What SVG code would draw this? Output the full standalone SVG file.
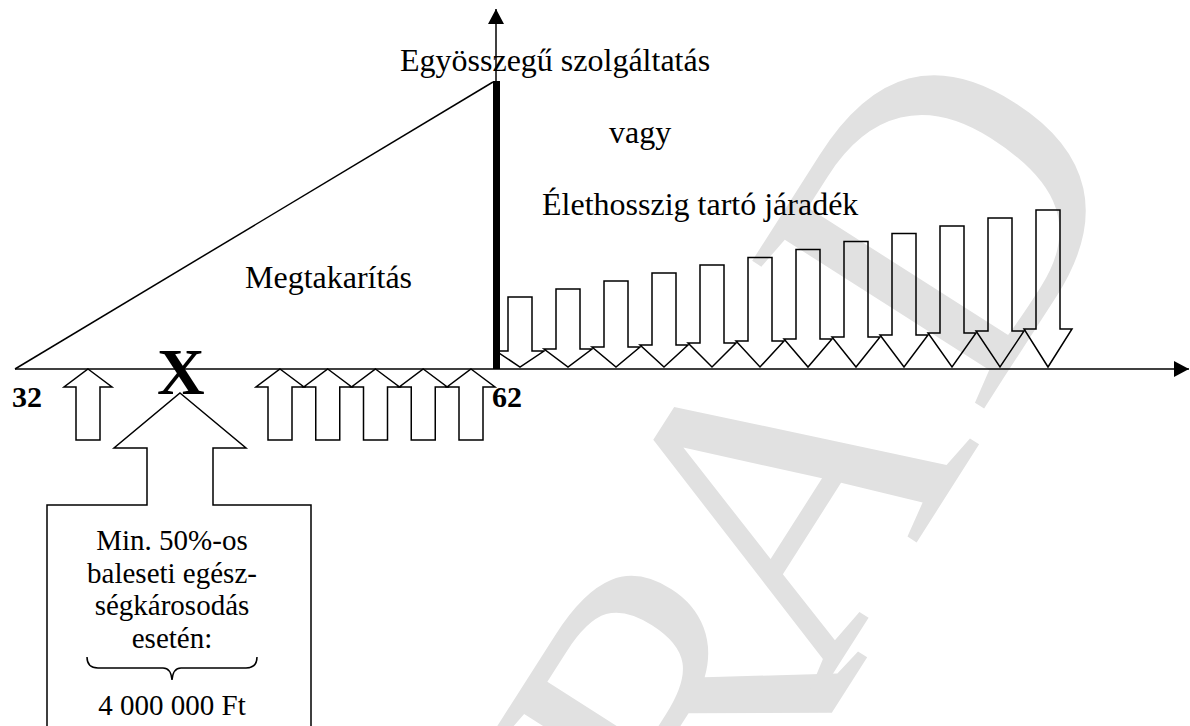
<svg xmlns="http://www.w3.org/2000/svg" width="1190" height="726" viewBox="0 0 1190 726">
  <style>
    .t { font-family: "Liberation Serif", "Times New Roman", serif; font-size: 32px; fill: #000; }
    .tb { font-family: "Liberation Serif", "Times New Roman", serif; font-size: 29px; fill: #000; text-anchor: middle; }
    .num { font-family: "Liberation Serif", "Times New Roman", serif; font-size: 30px; font-weight: bold; fill: #000; }
    .big { font-family: "Liberation Serif", "Times New Roman", serif; font-size: 66px; font-weight: bold; fill: #000; }
    .arrow { fill: none; stroke: #000; stroke-width: 1.5; stroke-linejoin: miter; }
    .line { fill: none; stroke: #000; stroke-width: 1.5; }
    .wm { font-family: "Liberation Serif", "Times New Roman", serif; font-size: 420px; fill: #e1e1e1; }
  </style>
  <defs>
    <marker id="head" markerUnits="userSpaceOnUse" markerWidth="16" markerHeight="16" refX="15" refY="8" orient="auto">
      <path d="M0,0 L15,8 L0,16 Z" fill="#000"/>
    </marker>
  </defs>
  <rect width="1190" height="726" fill="#fff"/>

  <g id="watermark">
    <text class="wm" transform="translate(717,893) rotate(-57.5)"><tspan x="0" y="0">R</tspan><tspan x="219" y="-20">A</tspan><tspan x="540" y="-35">D</tspan></text>
  </g>

  <g id="connectors">
    <line class="line" x1="15" y1="369" x2="1189" y2="369" stroke-width="2" marker-end="url(#head)"/>
    <line class="line" x1="496" y1="82" x2="496" y2="9" marker-end="url(#head)"/>
    <line class="line" x1="15" y1="369" x2="493" y2="82" stroke-width="1.3"/>
  </g>

  <g id="lump-sum-bar">
    <rect x="493" y="81" width="7" height="288" fill="#000"/>
  </g>

  <g id="label-lump-sum">
    <text class="t" x="400" y="71">Egyösszegű szolgáltatás</text>
  </g>
  <g id="label-or">
    <text class="t" x="609" y="143">vagy</text>
  </g>
  <g id="label-annuity">
    <text class="t" x="542" y="215">Élethosszig tartó járadék</text>
  </g>
  <g id="label-savings">
    <text class="t" x="245" y="288">Megtakarítás</text>
  </g>

  <g id="age-32"><text class="num" x="12" y="407">32</text></g>
  <g id="age-62"><text class="num" x="492" y="407">62</text></g>
  <g id="event-x"><text class="big" x="157" y="394">X</text></g>

  <g id="payout-arrows">
    <polygon class="arrow" points="508,297 532,297 532,351 544,351 520,367 496,351 508,351"/>
    <polygon class="arrow" points="556,289 580,289 580,349 592,349 568,367 544,349 556,349"/>
    <polygon class="arrow" points="604,281 628,281 628,347 640,347 616,367 592,347 604,347"/>
    <polygon class="arrow" points="652,273 676,273 676,345 688,345 664,367 640,345 652,345"/>
    <polygon class="arrow" points="700,265 724,265 724,343 736,343 712,367 688,343 700,343"/>
    <polygon class="arrow" points="748,257.5 772,257.5 772,341 784,341 760,367 736,341 748,341"/>
    <polygon class="arrow" points="796,249.5 820,249.5 820,339 832,339 808,367 784,339 796,339"/>
    <polygon class="arrow" points="844,241.5 868,241.5 868,337 880,337 856,367 832,337 844,337"/>
    <polygon class="arrow" points="892,233.5 916,233.5 916,335 928,335 904,367 880,335 892,335"/>
    <polygon class="arrow" points="940,226 964,226 964,333 976,333 952,367 928,333 940,333"/>
    <polygon class="arrow" points="988,218 1012,218 1012,331 1024,331 1000,367 976,331 988,331"/>
    <polygon class="arrow" points="1036,210 1060,210 1060,329 1072,329 1048,367 1024,329 1036,329"/>
  </g>

  <g id="contribution-arrows">
    <polygon class="arrow" points="88,369 112,387 100,387 100,440 76,440 76,387 64,387"/>
    <polygon class="arrow" points="280,369 304,387 292,387 292,440 268,440 268,387 256,387"/>
    <polygon class="arrow" points="327.75,369 351.75,387 339.75,387 339.75,440 315.75,440 315.75,387 303.75,387"/>
    <polygon class="arrow" points="375.5,369 399.5,387 387.5,387 387.5,440 363.5,440 363.5,387 351.5,387"/>
    <polygon class="arrow" points="423.25,369 447.25,387 435.25,387 435.25,440 411.25,440 411.25,387 399.25,387"/>
    <polygon class="arrow" points="471,369 495,387 483,387 483,440 459,440 459,387 447,387"/>
  </g>

  <g id="accident-callout">
    <polygon class="arrow" points="180,393 246,448 213,448 213,505 311,505 311,730 47,730 47,505 147,505 147,448 114,448"/>
    <text class="tb" x="172" y="550">Min. 50%-os</text>
    <text class="tb" x="172" y="583">baleseti egész-</text>
    <text class="tb" x="172" y="615">ségkárosodás</text>
    <text class="tb" x="172" y="648">esetén:</text>
    <path class="line" d="M87,657 Q87,668 98,668 L163,668 Q171,668 172,680 Q173,668 181,668 L246,668 Q257,668 257,657"/>
    <text class="tb" x="172" y="715">4 000 000 Ft</text>
  </g>
</svg>
